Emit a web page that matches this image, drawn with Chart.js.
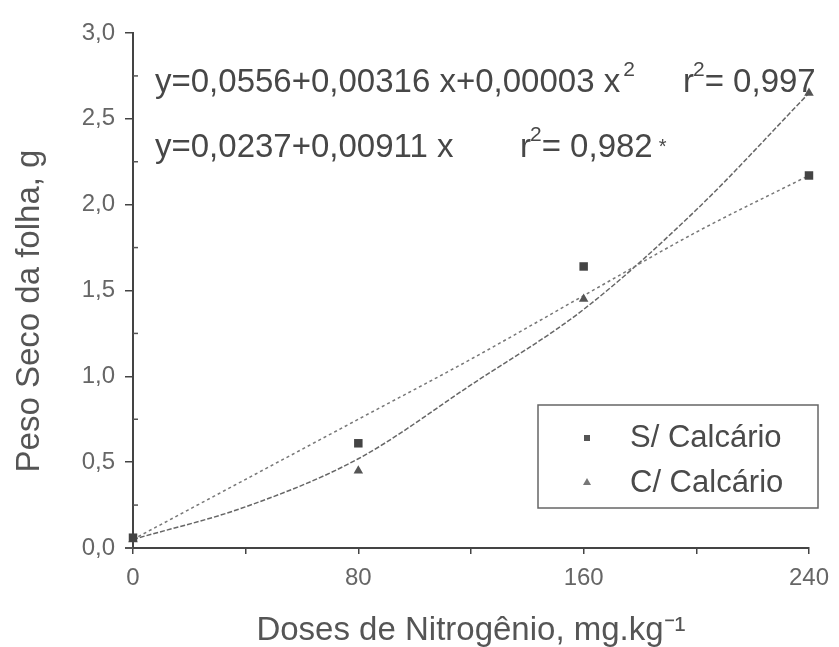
<!DOCTYPE html>
<html>
<head>
<meta charset="utf-8">
<script src="https://cdn.jsdelivr.net/npm/chart.js@4.4.0/dist/chart.umd.min.js"></script>
<style>
  html, body { margin: 0; padding: 0; background: #fff; }
  #wrap { width: 839px; height: 647px; }
</style>
</head>
<body>
<div id="wrap"><canvas id="chart" width="839" height="647"></canvas></div>
<script>
// observed values
const doses = [0, 80, 160, 240];
const semCalcario = [0.06, 0.61, 1.64, 2.17];
const comCalcario = [0.05, 0.45, 1.45, 2.65];

// fitted curves
const fitDoses = [0, 40, 80, 120, 160, 200, 240];
const fitLinear = [0.05, 0.40, 0.75, 1.10, 1.47, 1.84, 2.17];
const fitQuad = [0.05, 0.24, 0.52, 0.95, 1.39, 1.97, 2.65];

const yTicks = [0, 0.5, 1, 1.5, 2, 2.5, 3];
const yMinorTicks = [0.25, 0.75, 1.25, 1.75, 2.25, 2.75];
const xLabelTicks = [0, 80, 160, 240];

const seriesNames = ['S/ Calcário', 'C/ Calcário'];
const eqQuad = 'y=0,0556+0,00316 x+0,00003 x';
const eqLinear = 'y=0,0237+0,00911 x';
const r2Quad = '= 0,997';
const r2Linear = '= 0,982';

const FONT = '"Liberation Sans", Arial, sans-serif';

function pts(xs, ys) {
    return xs.map((x, i) => ({ x: x, y: ys[i] }));
}

// equations, legend box, y title and minor ticks
const extras = {
    id: 'extras',
    afterDraw(chart) {
        const ctx = chart.ctx;
        const ys = chart.scales.y;
        const area = chart.chartArea;

        ctx.save();
        // minor y ticks (inside) and the small stub of the x axis left of the y axis
        ctx.strokeStyle = '#555';
        ctx.lineWidth = 1.5;
        yMinorTicks.forEach(v => {
            const py = ys.getPixelForValue(v);
            ctx.beginPath();
            ctx.moveTo(area.left, py);
            ctx.lineTo(area.left + 5, py);
            ctx.stroke();
        });
        ctx.lineWidth = 2;
        ctx.beginPath();
        ctx.moveTo(area.left - 8, area.bottom);
        ctx.lineTo(area.left, area.bottom);
        ctx.stroke();

        // y axis title
        ctx.fillStyle = '#555';
        ctx.font = '33px ' + FONT;
        ctx.textAlign = 'center';
        ctx.textBaseline = 'middle';
        ctx.save();
        ctx.translate(30, 311);
        ctx.rotate(-Math.PI / 2);
        ctx.fillText('Peso Seco da folha, g', 0, 0);
        ctx.restore();

        // equations
        ctx.fillStyle = '#474747';
        ctx.textAlign = 'left';
        ctx.textBaseline = 'alphabetic';
        const big = '33px ' + FONT;
        const sup = '21px ' + FONT;

        ctx.font = big;
        ctx.fillText(eqQuad, 155, 92);
        let w = ctx.measureText(eqQuad).width;
        ctx.font = sup;
        ctx.fillText('2', 155 + w + 3, 76);

        function r2(x, y, txt) {
            ctx.font = big;
            ctx.fillText('r', x, y);
            const rw = ctx.measureText('r').width;
            ctx.font = sup;
            ctx.fillText('2', x + rw - 1, y - 16);
            const sw = ctx.measureText('2').width;
            ctx.font = big;
            ctx.fillText(txt, x + rw + sw - 1, y);
            return x + rw + sw - 1 + ctx.measureText(txt).width;
        }
        r2(683, 92, r2Quad);

        ctx.font = big;
        ctx.fillText(eqLinear, 155, 157);
        const end = r2(520, 157, r2Linear);
        ctx.font = '20px ' + FONT;
        ctx.fillText('*', end + 6, 153);

        // legend
        ctx.strokeStyle = '#666';
        ctx.lineWidth = 1.5;
        ctx.strokeRect(538, 405, 280, 103);
        ctx.fillStyle = '#555';
        ctx.fillRect(584, 435, 6, 6);
        ctx.beginPath();
        ctx.moveTo(587, 478);
        ctx.lineTo(591, 485);
        ctx.lineTo(583, 485);
        ctx.closePath();
        ctx.fillStyle = '#777';
        ctx.fill();
        ctx.fillStyle = '#4a4a4a';
        ctx.font = '31px ' + FONT;
        ctx.fillText(seriesNames[0], 630, 447);
        ctx.fillText(seriesNames[1], 630, 492);
        ctx.restore();
    }
};

const ctx = document.getElementById('chart').getContext('2d');
new Chart(ctx, {
    type: 'scatter',
    data: {
        datasets: [
            {
                label: seriesNames[0],
                data: pts(doses, semCalcario),
                pointStyle: 'rect',
                pointRadius: 6,
                backgroundColor: '#444',
                borderColor: '#444',
                borderWidth: 0,
                clip: false
            },
            {
                label: seriesNames[1],
                data: pts(doses, comCalcario),
                pointStyle: 'triangle',
                pointRadius: 5.5,
                backgroundColor: '#555',
                borderColor: '#555',
                borderWidth: 0,
                clip: false
            },
            {
                label: 'linear',
                data: pts(fitDoses, fitLinear),
                showLine: true,
                pointRadius: 0,
                borderColor: '#777',
                borderWidth: 1.5,
                borderDash: [3, 3],
                cubicInterpolationMode: 'monotone',
                clip: false
            },
            {
                label: 'quadratic',
                data: pts(fitDoses, fitQuad),
                showLine: true,
                pointRadius: 0,
                borderColor: '#666',
                borderWidth: 1.5,
                borderDash: [5, 2],
                cubicInterpolationMode: 'monotone',
                clip: false
            }
        ]
    },
    options: {
        responsive: false,
        animation: false,
        layout: { padding: { top: 33, right: 25, left: 0, bottom: 0 } },
        plugins: {
            legend: { display: false },
            tooltip: { enabled: false }
        },
        scales: {
            x: {
                type: 'linear',
                min: 0,
                max: 240,
                afterFit: function(scale) { scale.height = 99; },
                ticks: {
                    stepSize: 40,
                    padding: 10,
                    color: '#666',
                    font: { family: FONT, size: 24 },
                    maxRotation: 0,
                    callback: function(value) {
                        return xLabelTicks.includes(value) ? String(value) : '';
                    }
                },
                grid: { drawOnChartArea: false, tickLength: 6, color: '#444', lineWidth: 1.5 },
                border: { color: '#444', width: 2 },
                title: {
                    display: true,
                    text: 'Doses de Nitrogênio, mg.kg⁻¹',
                    color: '#555',
                    font: { family: FONT, size: 33, lineHeight: 1 },
                    padding: { top: 0, bottom: 0 }
                }
            },
            y: {
                min: 0,
                max: 3,
                afterFit: function(scale) { scale.width = 133; },
                ticks: {
                    stepSize: 0.5,
                    padding: 10,
                    color: '#666',
                    font: { family: FONT, size: 24 },
                    callback: function(value) {
                        return yTicks.includes(value) ? value.toFixed(1).replace('.', ',') : '';
                    }
                },
                grid: { drawOnChartArea: false, tickLength: 8, color: '#444', lineWidth: 1.5 },
                border: { color: '#444', width: 2 }
            }
        }
    },
    plugins: [extras]
});
</script>
</body>
</html>
